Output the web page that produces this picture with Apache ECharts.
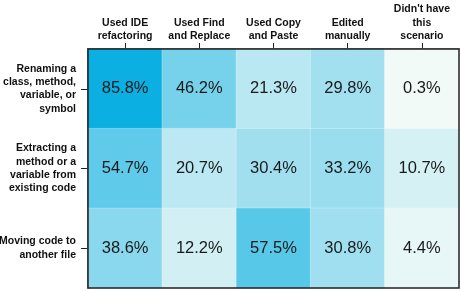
<!DOCTYPE html>
<html><head><meta charset="utf-8">
<script src="https://cdn.jsdelivr.net/npm/echarts@6/dist/echarts.min.js"></script>
<style>html,body{margin:0;padding:0;background:#fff}#c{width:461px;height:291px}</style>
</head><body><div id="c"></div>
<script>
const columns = ["Used IDE\nrefactoring", "Used Find\nand Replace", "Used Copy\nand Paste", "Edited\nmanually", "Didn't have\nthis\nscenario"];
const rows = ["Renaming a\nclass, method,\nvariable, or\nsymbol", "Extracting a\nmethod or a\nvariable from\nexisting code", "Moving code to\nanother file"];
const renaming = [85.8, 46.2, 21.3, 29.8, 0.3];
const extracting = [54.7, 20.7, 30.4, 33.2, 10.7];
const moving = [38.6, 12.2, 57.5, 30.8, 4.4];
const rowValues = [renaming, extracting, moving];
const data = [];
rowValues.forEach((vals, r) => vals.forEach((v, c) => data.push([c, r, v])));
const chart = echarts.init(document.getElementById('c'));
chart.setOption({
  animation: false,
  grid: {left: 88, top: 49, width: 371, height: 239, containLabel: false, outerBoundsMode: 'none'},
  xAxis: {type: 'category', position: 'top', data: columns,
    axisLine: {show: true, lineStyle: {color: '#222', width: 1.5}},
    axisTick: {show: true, alignWithLabel: true, interval: 0, length: 6, lineStyle: {color: '#222'}},
    axisLabel: {interval: 0, fontFamily: 'Liberation Sans, Arial', fontWeight: 'bold', fontSize: 10.5, color: '#111', lineHeight: 13.5, margin: 6},
    splitLine: {show: false}},
  yAxis: {type: 'category', inverse: true, data: rows,
    axisLine: {show: true, lineStyle: {color: '#222', width: 1.5}},
    axisTick: {show: true, alignWithLabel: true, interval: 0, length: 7, lineStyle: {color: '#222'}},
    axisLabel: {interval: 0, fontFamily: 'Liberation Sans, Arial', fontWeight: 'bold', fontSize: 10.5, color: '#111', lineHeight: 13.3, margin: 12, align: 'right'},
    splitLine: {show: false}},
  visualMap: {show: false, min: 0, max: 86, dimension: 2, inRange: {color: ['#f3faf7', '#0aafe1']}},
  series: [{type: 'heatmap', data: data,
    itemStyle: {borderColor: 'rgba(255,255,255,0.25)', borderWidth: 1},
    label: {show: true, formatter: p => p.value[2].toFixed(1) + '%', fontFamily: 'Liberation Sans, Arial', fontSize: 16.5, color: '#1a1a1a'}
  }],
  graphic: [{type: 'rect', shape: {x: 88, y: 49, width: 371, height: 239}, style: {fill: 'none', stroke: '#222', lineWidth: 1.5}, z: 100}]
});
</script></body></html>
